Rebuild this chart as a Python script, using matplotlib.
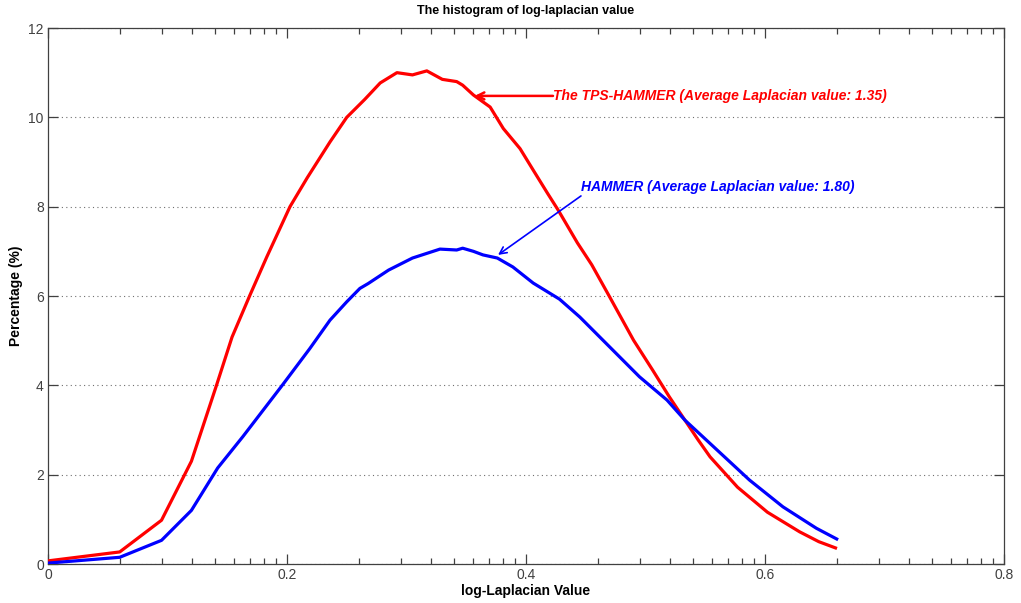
import numpy as np
import matplotlib
matplotlib.use("Agg")
import matplotlib.pyplot as plt

plt.rcParams['font.family'] = ['Liberation Sans', 'DejaVu Sans']

# Data
tps_x = [0, 0.06, 0.095, 0.12, 0.141, 0.154, 0.169, 0.183, 0.2025, 0.217, 0.236, 0.25,
         0.265, 0.278, 0.292, 0.305, 0.317, 0.330, 0.342, 0.347, 0.356, 0.370, 0.381,
         0.395, 0.406, 0.418, 0.427, 0.443, 0.455, 0.470, 0.490, 0.506, 0.520, 0.533,
         0.544, 0.554, 0.577, 0.602, 0.629, 0.645, 0.659]
tps_y = [0.07, 0.27, 0.98, 2.3, 4.0, 5.08, 6.02, 6.87, 8.0, 8.65, 9.45, 10.0,
         10.4, 10.77, 11.0, 10.95, 11.04, 10.85, 10.8, 10.72, 10.5, 10.23, 9.75,
         9.3, 8.82, 8.3, 7.92, 7.19, 6.7, 5.98, 5.01, 4.34, 3.74, 3.22,
         2.78, 2.4, 1.72, 1.16, 0.72, 0.5, 0.36]

ham_x = [0, 0.06, 0.095, 0.12, 0.142, 0.163, 0.196, 0.219, 0.236, 0.250, 0.261, 0.268,
         0.285, 0.305, 0.328, 0.342, 0.347, 0.356, 0.364, 0.376, 0.389, 0.406, 0.428,
         0.445, 0.470, 0.495, 0.518, 0.533, 0.560, 0.587, 0.615, 0.643, 0.660]
ham_y = [0.02, 0.15, 0.53, 1.2, 2.15, 2.85, 4.0, 4.82, 5.46, 5.87, 6.17, 6.28,
         6.58, 6.85, 7.05, 7.03, 7.07, 7.0, 6.92, 6.85, 6.65, 6.29, 5.93,
         5.53, 4.86, 4.19, 3.67, 3.22, 2.55, 1.88, 1.28, 0.8, 0.56]

x_major = [0, 0.2, 0.4, 0.6, 0.8]
x_major_labels = ['0', '0.2', '0.4', '0.6', '0.8']
y_major = [0, 2, 4, 6, 8, 10, 12]
y_major_labels = ['0', '2', '4', '6', '8', '10', '12']

tps_label = 'The TPS-HAMMER (Average Laplacian value: 1.35)'
ham_label = 'HAMMER (Average Laplacian value: 1.80)'

fig = plt.figure(figsize=(10.21, 6.03), dpi=100)
ax = fig.add_axes([48/1021, 39/603, (1004-48)/1021, (564-28)/603])

ax.plot(tps_x, tps_y, color='#FF0000', lw=2.3, solid_joinstyle='round', zorder=3)
ax.plot(ham_x, ham_y, color='#0000FF', lw=2.3, solid_joinstyle='round', zorder=3)

ax.set_xlim(0, 0.8)
ax.set_ylim(0, 12)

# MATLAB-like log-spaced minor ticks inside each 0.2 interval
minor = [k * 0.2 + 0.2 * np.log10(m) for k in range(4) for m in range(2, 10)]
ax.set_xticks(x_major)
ax.set_xticklabels(x_major_labels)
ax.set_xticks(minor, minor=True)
ax.set_yticks(y_major)
ax.set_yticklabels(y_major_labels)

spine_col = '#404040'
for s in ax.spines.values():
    s.set_color(spine_col)
    s.set_linewidth(0.9)

ax.tick_params(axis='both', which='major', direction='in', length=7, width=0.9,
               colors=spine_col, labelsize=10, top=True, right=True)
ax.tick_params(axis='x', which='minor', direction='in', length=4, width=0.9,
               colors=spine_col, top=True, bottom=True)
ax.tick_params(axis='x', which='major', pad=3)
ax.tick_params(axis='y', which='major', pad=3)
for lab in ax.get_xticklabels() + ax.get_yticklabels():
    lab.set_color('#404040')

ax.yaxis.grid(True, linestyle=(0, (1, 3)), color='#707070', linewidth=0.8)
ax.set_axisbelow(True)

ax.set_title('The histogram of log-laplacian value', fontsize=9, fontweight='bold', pad=10)
ax.set_xlabel('log-Laplacian Value', fontsize=10, fontweight='bold', labelpad=1)
ax.set_ylabel('Percentage (%)', fontsize=10, fontweight='bold', labelpad=4)

# Annotations
ax.annotate('', xy=(0.357, 10.48), xytext=(0.4226, 10.48),
            arrowprops=dict(arrowstyle='->,head_length=0.5,head_width=0.25',
                            color='#FF0000', lw=1.8, shrinkA=0, shrinkB=0))
ax.text(0.4226, 10.48, tps_label, color='#FF0000', fontsize=10, fontweight='bold',
        fontstyle='italic', ha='left', va='center')

ax.annotate('', xy=(0.3766, 6.92), xytext=(0.446, 8.24),
            arrowprops=dict(arrowstyle='->,head_length=0.5,head_width=0.25',
                            color='#0000FF', lw=1.2, shrinkA=0, shrinkB=0))
ax.text(0.446, 8.44, ham_label, color='#0000FF', fontsize=10, fontweight='bold',
        fontstyle='italic', ha='left', va='center')

fig.savefig('out.png', dpi=100)
